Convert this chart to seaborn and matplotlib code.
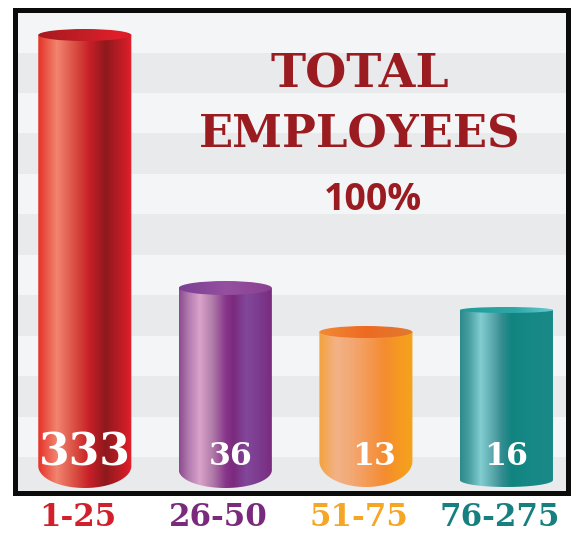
import matplotlib.pyplot as plt
import matplotlib.transforms as mtransforms
import numpy as np
import pandas as pd
import seaborn as sns
from matplotlib.colors import LinearSegmentedColormap
from matplotlib.patches import Ellipse, Polygon

# Employee counts by company-size bucket
categories = ["1-25", "26-50", "51-75", "76-275"]
employees = [333, 36, 13, 16]
# cylinder heights as drawn in the graphic (it is not to scale with the counts)
cylinder_heights = [457.5, 204.5, 160.5, 182.5]
label_colors = ["#D21F2A", "#7A2A7C", "#F5A623", "#168080"]
title_lines = ["TOTAL", "EMPLOYEES"]
share_text = "100%"

# look of each cylinder: body gradient, lid gradient, base curve
body_stops = [
    [(0, "#E53228"), (0.2, "#F2846F"), (0.42, "#D6463C"), (0.55, "#C71F28"),
     (0.72, "#8E191D"), (0.86, "#B71C24"), (0.97, "#D81E29"), (1, "#E4242E")],
    [(0, "#8C4A90"), (0.1, "#B27AAE"), (0.22, "#D9A3CB"), (0.36, "#B07AA8"),
     (0.5, "#86358A"), (0.58, "#7B2A7E"), (0.72, "#82479A"), (0.86, "#7C3A8E"), (1, "#7A2B7E")],
    [(0, "#F4A23C"), (0.18, "#F2B286"), (0.35, "#F3A874"), (0.5, "#F59B58"),
     (0.7, "#F48C30"), (0.86, "#F59A22"), (1, "#F5A31C")],
    [(0, "#2C8A8C"), (0.1, "#4AA0A2"), (0.22, "#82CDD0"), (0.35, "#5AA8AC"),
     (0.45, "#338C90"), (0.55, "#118480"), (0.75, "#168886"), (1, "#1A8A88")],
]
lid_stops = [
    [(0, "#A8191F"), (0.5, "#C41E26"), (0.85, "#E01F2A"), (1, "#D81E28")],
    [(0, "#7A3F94"), (0.5, "#9550A0"), (1, "#8A4090")],
    [(0, "#F28A35"), (0.5, "#EE6A22"), (1, "#E07A30")],
    [(0, "#1E9A98"), (0.6, "#30A8A8"), (1, "#6ACCD6")],
]
base_y = [26.5, 22.5, 31.5, 12.5]
base_b = [22, 18, 26, 7]
lid_b = [6, 7, 6, 3]
value_sizes = [31.6, 22.7, 22.7, 22.7]
value_dx = [0, 0.04, 0.06, 0]

df = pd.DataFrame({"range": categories, "height": cylinder_heights})

fig = plt.figure(figsize=(5.71, 5.33), dpi=100)
ax = fig.add_axes([14.5 / 571, 1 - 492.5 / 533, 553.5 / 571, 483 / 533])
ax.set_facecolor("#F4F5F7")

sns.barplot(data=df, x="range", y="height", width=0.662, color="white", ax=ax)
bars = list(ax.patches)

# horizontal banding behind the bars
stripe = 40.45
for y0 in np.arange(-4.95, 483, 2 * stripe):
    ax.axhspan(y0, y0 + stripe, color="#E9EAEC", lw=0, zorder=0)

grad = np.linspace(0, 1, 256).reshape(1, -1)
t = np.linspace(np.pi, 2 * np.pi, 80)
for i, bar in enumerate(bars):
    x0, w, top = bar.get_x(), bar.get_width(), bar.get_height()
    cx = x0 + w / 2
    bar.set_visible(False)

    body_cmap = LinearSegmentedColormap.from_list(f"body{i}", body_stops[i])
    lid_cmap = LinearSegmentedColormap.from_list(f"lid{i}", lid_stops[i])

    pts = [(x0, top), (x0, base_y[i])]
    pts += list(zip(cx + w / 2 * np.cos(t), base_y[i] + base_b[i] * np.sin(t)))
    pts += [(x0 + w, top)]
    body = Polygon(pts, closed=True, transform=ax.transData)
    im = ax.imshow(grad, cmap=body_cmap, extent=[x0, x0 + w, 0, top],
                   aspect="auto", zorder=2, interpolation="bilinear")
    im.set_clip_path(body)

    lid = Ellipse((cx, top), w, 2 * lid_b[i], transform=ax.transData)
    im = ax.imshow(grad, cmap=lid_cmap, extent=[x0, x0 + w, top - lid_b[i], top + lid_b[i]],
                   aspect="auto", zorder=3, interpolation="bilinear")
    im.set_clip_path(lid)

    ax.text(cx + value_dx[i], 27.5, str(employees[i]), color="white", fontsize=value_sizes[i],
            family="DejaVu Serif", weight="bold", ha="center", va="baseline", zorder=5)

ax.set_xlim(-0.5002, 3.4379)
ax.set_ylim(0, 483)

title_color = "#9B1C20"
ax.text(0.6233, 0.8395, title_lines[0], transform=ax.transAxes, color=title_color,
        fontsize=34, family="DejaVu Serif", weight="bold", ha="center", va="baseline")
ax.text(0.6233, 0.7133, title_lines[1], transform=ax.transAxes, color=title_color,
        fontsize=32.4, family="DejaVu Serif", weight="bold", ha="center", va="baseline")
ax.text(0.6468, 0.5849, share_text, transform=ax.transAxes, color=title_color,
        fontsize=27, family="Open Sans", weight="bold", ha="center", va="baseline")

ax.set_xlabel("")
ax.set_ylabel("")
ax.set_yticks([])
ax.tick_params(axis="x", length=0, pad=7)
shift = mtransforms.ScaledTranslation(-7 / 100, 0, fig.dpi_scale_trans)
for label, c in zip(ax.get_xticklabels(), label_colors):
    label.set_color(c)
    label.set_fontfamily("DejaVu Serif")
    label.set_fontweight("bold")
    label.set_fontsize(22.2)
    label.set_transform(label.get_transform() + shift)

for s in ax.spines.values():
    s.set_visible(True)
    s.set_linewidth(3.6)
    s.set_color("#0B0B0B")
    s.set_zorder(10)

fig.savefig("out.png", dpi=100)
